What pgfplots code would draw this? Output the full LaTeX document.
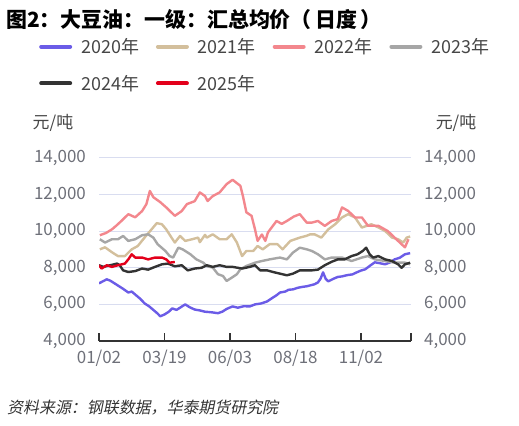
\documentclass[border=0pt]{standalone}
\usepackage{fontspec}
\setmainfont{Noto Sans CJK SC}
\newfontfamily\cjkit[FakeSlant=0.2]{Noto Sans CJK SC}
\usepackage{pgfplots}
\pgfplotsset{compat=1.18}
\definecolor{c20}{HTML}{6B5CE7}
\definecolor{c21}{HTML}{D3BF9C}
\definecolor{c22}{HTML}{F3878D}
\definecolor{c23}{HTML}{A6A6A6}
\definecolor{c24}{HTML}{333333}
\definecolor{c25}{HTML}{E3001B}
\definecolor{gridc}{HTML}{D9DDF0}
\definecolor{tickc}{HTML}{6E7079}
\definecolor{legc}{HTML}{464646}
\begin{document}
\begin{tikzpicture}
\path[use as bounding box] (0,0) rectangle (519bp,426bp);
\node[anchor=west, inner sep=0pt, font=\fontsize{21}{21}\selectfont\bfseries] at (6bp,406bp) {图2：大豆油：一级：汇总均价（\,日度\,）};
\node[anchor=center, inner sep=0pt, font=\fontsize{17}{17}\selectfont, text=legc] at (53bp,303bp) {元/吨};
\node[anchor=center, inner sep=0pt, font=\fontsize{17}{17}\selectfont, text=legc] at (456bp,303bp) {元/吨};
\node[anchor=west, inner sep=0pt, font=\fontsize{16}{16}\selectfont\cjkit, text=c24] at (7bp,18bp) {资料来源：钢联数据，华泰期货研究院};
\begin{axis}[
  at={(99bp,85bp)}, anchor=south west,
  scale only axis, width=312bp, height=183bp,
  xmin=2, xmax=364, ymin=4000, ymax=14000,
  xtick={2,78,154,230,306,364},
  xticklabels={01/02,03/19,06/03,08/18,11/02,{}},
  ytick={4000,6000,8000,10000,12000,14000},
  scaled y ticks=false,
  axis x line*=bottom, axis y line*=left,
  x axis line style={-, draw=c24, line width=1.2bp},
  y axis line style={draw=none},
  xtick style={draw=c24, line width=1.2bp},
  ytick style={draw=none},
  tick align=inside, major tick length=8bp,
  ymajorgrids, grid style={gridc, line width=1bp},
  /pgf/number format/.cd, fixed, 1000 sep={,}, assume math mode=true, /pgfplots/.cd,
  yticklabel style={font=\fontsize{17}{17}\selectfont, text=tickc, inner sep=0pt, xshift=-13bp},
  xticklabel style={font=\fontsize{17}{17}\selectfont, text=tickc, inner sep=0pt, yshift=-9bp},
  every axis plot/.append style={line width=2.4bp, line join=round, no markers},
  legend columns=4,
  legend image code/.code={\draw[line width=4bp, line cap=round] (0bp,0bp) -- (29bp,0bp);},
  legend style={draw=none, fill=none, at={(-0.1923,1.655)}, anchor=north west,
    inner sep=0pt, font=\fontsize{18}{18}\selectfont, text=legc,
    nodes={inner sep=0pt}, row sep=20bp,
    /tikz/every odd column/.append style={column sep=9bp},
    /tikz/every even column/.append style={column sep=17bp}},
]
\addplot[c20] coordinates {(2,7150)(6,7250)(11,7370)(15,7300)(20,7150)(25,7000)(30,6850)(36,6650)(40,6700)(45,6500)(50,6300)(55,6050)(60,5900)(65,5700)(70,5500)(73,5350)(78,5450)(83,5600)(87,5780)(92,5700)(97,5850)(102,6000)(107,5850)(113,5720)(119,5670)(125,5600)(130,5580)(134,5560)(140,5520)(145,5600)(150,5750)(157,5890)(163,5820)(170,5900)(177,5890)(183,6000)(190,6050)(197,6160)(203,6350)(208,6500)(212,6650)(218,6700)(222,6800)(227,6820)(232,6900)(237,6950)(243,6990)(248,7050)(252,7100)(256,7200)(259,7400)(262,7750)(265,7400)(268,7260)(274,7400)(279,7500)(284,7530)(290,7600)(296,7640)(301,7750)(306,7850)(311,7920)(316,8100)(322,8300)(328,8250)(334,8190)(340,8300)(345,8460)(351,8550)(357,8740)(363,8800)};
\addlegendentry{2020年}
\addplot[c21] coordinates {(3,9010)(9,9120)(17,8850)(24,8640)(32,8640)(40,9010)(47,9190)(55,9660)(63,10100)(69,10440)(75,10380)(80,10100)(86,9660)(90,9380)(96,9740)(102,9470)(110,9560)(117,9650)(119,9400)(125,9800)(127,9650)(134,9830)(142,9560)(150,9560)(156,9830)(162,9380)(168,8640)(173,8920)(181,8920)(186,9190)(192,9010)(200,9290)(209,9290)(215,9010)(224,9470)(235,9650)(243,9750)(247,9830)(252,9830)(260,9650)(268,10100)(276,10380)(284,10750)(291,10930)(299,10750)(307,10200)(318,10380)(326,10210)(334,10010)(342,9650)(349,9560)(355,9380)(359,9650)(363,9710)};
\addlegendentry{2021年}
\addplot[c22] coordinates {(3,9780)(10,9900)(17,10100)(22,10300)(28,10560)(36,10930)(44,10760)(52,11100)(57,11480)(61,12200)(65,11860)(73,11590)(80,11300)(90,10840)(98,11100)(104,11480)(113,11640)(119,12120)(125,11920)(128,11650)(134,11920)(142,12120)(150,12570)(157,12810)(166,12480)(169,11920)(173,11030)(179,10840)(183,10100)(186,9470)(191,9820)(195,9470)(198,9930)(208,10560)(214,10400)(220,10560)(228,10800)(235,10930)(243,10470)(249,10470)(256,10560)(264,10290)(272,10560)(279,10660)(284,11300)(291,11110)(299,10750)(307,10750)(314,10300)(326,10300)(337,10010)(345,9650)(353,9290)(357,9120)(361,9560)};
\addlegendentry{2022年}
\addplot[c23] coordinates {(3,9560)(9,9380)(17,9560)(24,9560)(30,9740)(36,9470)(44,9560)(52,9780)(59,9830)(65,9650)(70,9290)(79,8920)(84,8640)(88,8560)(94,9100)(99,9010)(108,8740)(115,8460)(123,8280)(127,8090)(134,8010)(140,7650)(146,7550)(150,7280)(156,7460)(162,7650)(166,7920)(173,8100)(183,8280)(191,8370)(200,8460)(212,8560)(220,8460)(227,8830)(235,9100)(243,9010)(249,8920)(256,8740)(264,8460)(272,8560)(284,8560)(295,8370)(307,8560)(314,8640)(322,8460)(334,8370)(345,8280)(357,8280)(363,8190)};
\addlegendentry{2023年}
\addplot[c24] coordinates {(2,8140)(7,8050)(15,8140)(23,8230)(26,8140)(30,7860)(36,7770)(44,7820)(52,7960)(59,7900)(67,8050)(75,8190)(82,8230)(90,8080)(98,8140)(105,7860)(113,7960)(121,8000)(127,8140)(134,8050)(142,8140)(150,8050)(157,8050)(168,7960)(177,8050)(183,8140)(189,7860)(197,7860)(204,7770)(212,7680)(220,7590)(227,7680)(235,7860)(243,7860)(249,7860)(256,7900)(264,8140)(272,8330)(279,8460)(287,8460)(295,8640)(302,8740)(308,8920)(312,9100)(316,8740)(320,8560)(326,8640)(334,8460)(342,8370)(349,8190)(353,8000)(357,8190)(363,8280)};
\addlegendentry{2024年}
\addplot[c25] coordinates {(2,8140)(5,7960)(11,8140)(17,8050)(24,8140)(32,8230)(36,8460)(40,8740)(44,8560)(52,8560)(59,8460)(67,8560)(75,8560)(80,8460)(84,8280)(90,8320)};
\addlegendentry{2025年}
\end{axis}
\begin{axis}[
  at={(99bp,85bp)}, anchor=south west,
  scale only axis, width=312bp, height=183bp,
  xmin=2, xmax=364, ymin=4000, ymax=14000,
  hide x axis,
  axis y line*=right,
  y axis line style={draw=none},
  ytick style={draw=none},
  ytick={4000,6000,8000,10000,12000,14000},
  scaled y ticks=false,
  /pgf/number format/.cd, fixed, 1000 sep={,}, assume math mode=true, /pgfplots/.cd,
  yticklabel style={font=\fontsize{17}{17}\selectfont, text=tickc, inner sep=0pt, xshift=13bp},
]
\addplot[draw=none] coordinates {(2,4000)};
\end{axis}
\end{tikzpicture}
\end{document}
